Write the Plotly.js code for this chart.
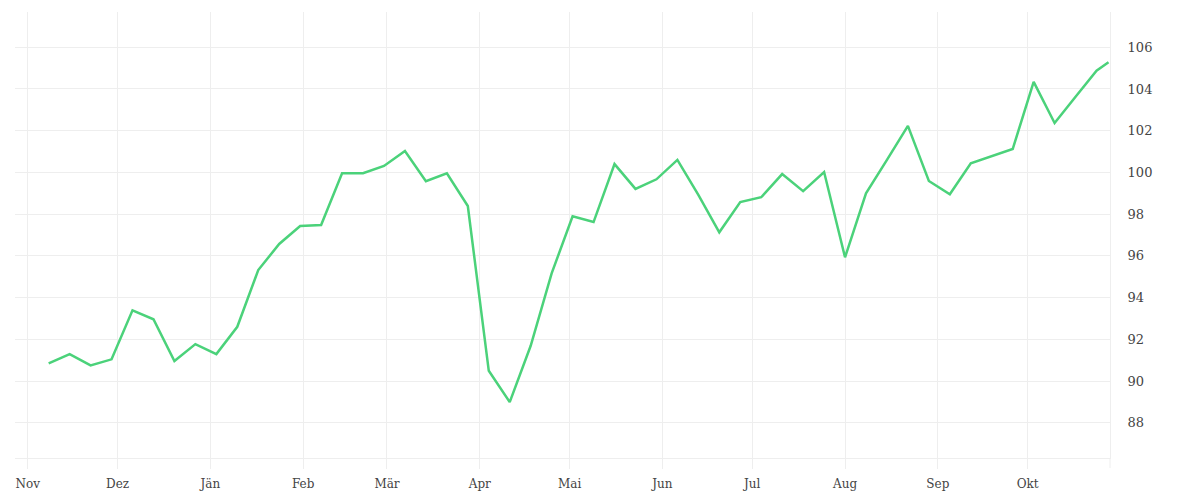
<!DOCTYPE html>
<html>
<head>
<meta charset="utf-8">
<script src="https://cdn.plot.ly/plotly-3.0.1.min.js"></script>
<style>
  html, body { margin: 0; padding: 0; background: #ffffff; }
  #chart { width: 1200px; height: 500px; }
</style>
</head>
<body>
<div id="chart"></div>
<script>
// Weekly dates of the series
const dates = [
  '2022-11-08','2022-11-15','2022-11-22','2022-11-29','2022-12-06','2022-12-13','2022-12-20','2022-12-27',
  '2023-01-03','2023-01-10','2023-01-17','2023-01-24','2023-01-31','2023-02-07','2023-02-14','2023-02-21',
  '2023-02-28','2023-03-07','2023-03-14','2023-03-21','2023-03-28','2023-04-04','2023-04-11','2023-04-18',
  '2023-04-25','2023-05-02','2023-05-09','2023-05-16','2023-05-23','2023-05-30','2023-06-06','2023-06-13',
  '2023-06-20','2023-06-27','2023-07-04','2023-07-11','2023-07-18','2023-07-25','2023-08-01','2023-08-08',
  '2023-08-15','2023-08-22','2023-08-29','2023-09-05','2023-09-12','2023-09-19','2023-09-26','2023-10-03',
  '2023-10-10','2023-10-17','2023-10-24','2023-10-28'
];

// Index values
const values = [
  90.85, 91.29, 90.75, 91.04, 93.39, 92.96, 90.96, 91.77,
  91.29, 92.60, 95.32, 96.57, 97.43, 97.48, 99.96, 99.96,
  100.31, 101.03, 99.58, 99.96, 98.39, 90.49, 88.99, 91.69,
  95.16, 97.90, 97.62, 100.40, 99.21, 99.67, 100.60, 98.92,
  97.13, 98.58, 98.81, 99.92, 99.10, 100.02, 95.93, 99.00,
  100.60, 102.23, 99.59, 98.95, 100.44, 100.77, 101.12, 104.34,
  102.37, 103.63, 104.88, 105.28
];

// Month tick positions and labels
const monthTicks = [
  '2022-11-01','2022-12-01','2023-01-01','2023-02-01','2023-03-01','2023-04-01',
  '2023-05-01','2023-06-01','2023-07-01','2023-08-01','2023-09-01','2023-10-01'
];
const monthLabels = ['Nov','Dez','Jän','Feb','Mär','Apr','Mai','Jun','Jul','Aug','Sep','Okt'];

const yTicks = [88, 90, 92, 94, 96, 98, 100, 102, 104, 106];

const gridColor = '#eeeeee';
const fontFamily = '"DejaVu Serif", "Liberation Serif", serif';

const trace = {
  x: dates,
  y: values,
  type: 'scatter',
  mode: 'lines',
  line: { color: '#4bd27a', width: 2.5 },
  hoverinfo: 'x+y'
};

const layout = {
  width: 1200,
  height: 500,
  margin: { l: 15, r: 90, t: 12, b: 42 },
  paper_bgcolor: '#ffffff',
  plot_bgcolor: '#ffffff',
  showlegend: false,
  font: { family: fontFamily, color: '#444444', size: 12 },
  xaxis: {
    type: 'date',
    range: ['2022-10-27 18:00', '2023-10-28 12:00'],
    tickmode: 'array',
    tickvals: monthTicks,
    ticktext: monthLabels,
    showgrid: true,
    gridcolor: gridColor,
    gridwidth: 1,
    showline: true,
    linecolor: gridColor,
    linewidth: 1,
    ticks: 'outside',
    ticklen: 10,
    tickcolor: gridColor,
    ticklabelstandoff: 5,
    tickfont: { family: fontFamily, size: 12, color: '#444444' },
    zeroline: false,
    fixedrange: true
  },
  yaxis: {
    side: 'right',
    range: [86.31, 107.69],
    tickmode: 'array',
    tickvals: yTicks,
    ticktext: yTicks.map(String),
    showgrid: true,
    gridcolor: gridColor,
    gridwidth: 1,
    showline: true,
    linecolor: gridColor,
    linewidth: 1,
    ticks: 'outside',
    ticklen: 14,
    tickcolor: 'rgba(0,0,0,0)',
    tickfont: { family: fontFamily, size: 13, color: '#444444' },
    zeroline: false,
    fixedrange: true
  },
  shapes: [{
    type: 'line', xref: 'paper', yref: 'paper',
    x0: 1, x1: 1, y0: -10 / 446, y1: 0,
    line: { color: gridColor, width: 1 }
  }]
};

Plotly.newPlot('chart', [trace], layout, { displayModeBar: false, staticPlot: true });
</script>
</body>
</html>
